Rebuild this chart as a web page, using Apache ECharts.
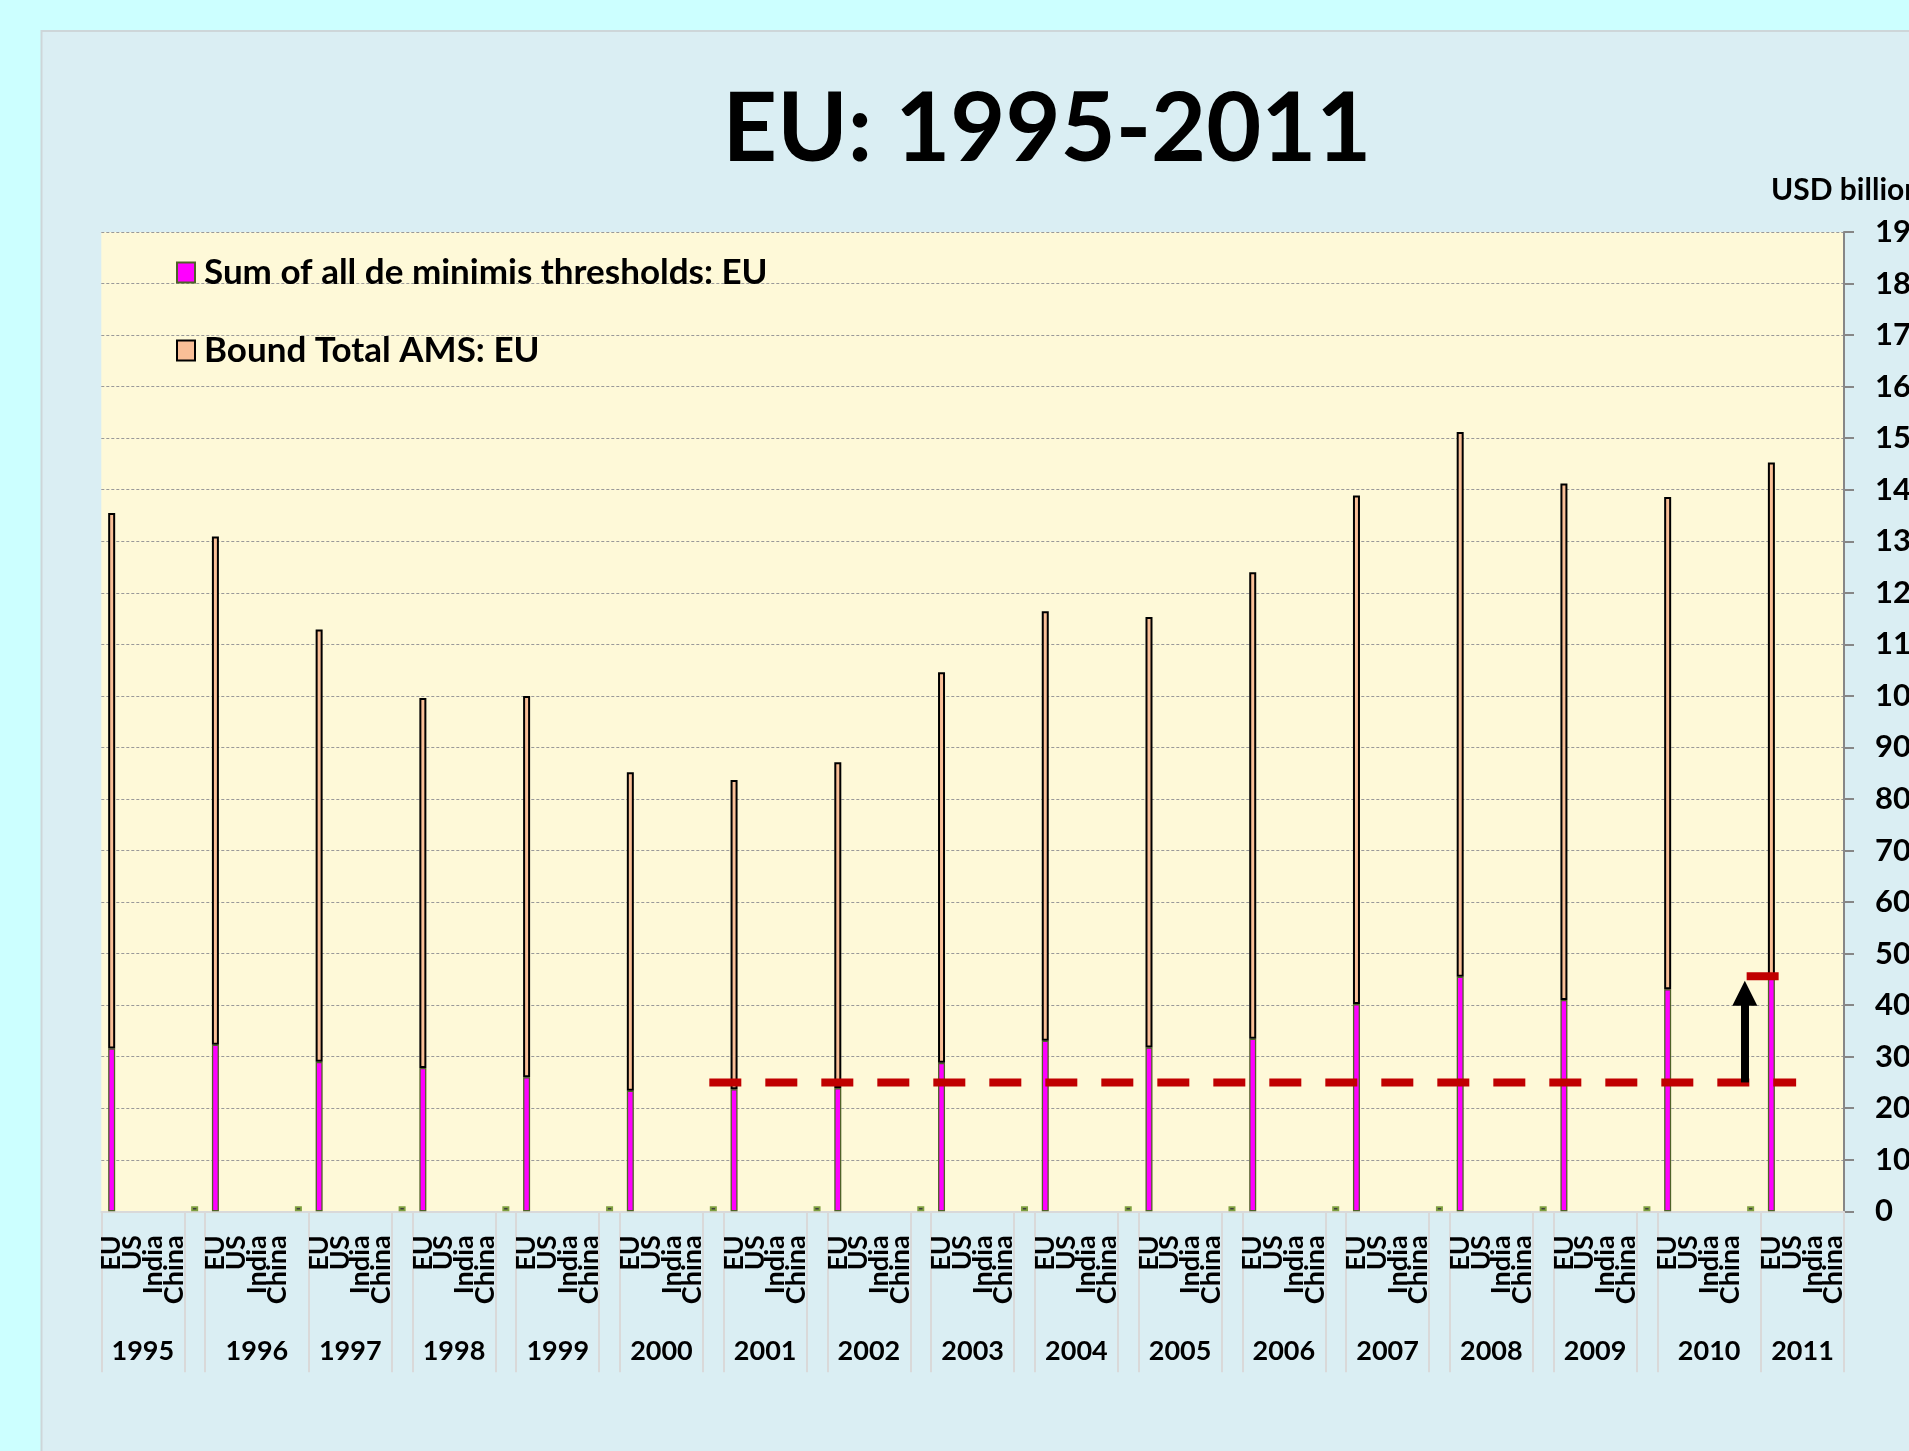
<!DOCTYPE html>
<html>
<head>
<meta charset="utf-8">
<title>EU: 1995-2011</title>
<script src="https://cdn.jsdelivr.net/npm/echarts@6/dist/echarts.min.js"></script>
<style>
  html, body { margin: 0; padding: 0; background: #CCFFFF; }
  #chart { width: 1909px; height: 1451px; }
</style>
</head>
<body>
<div id="chart"></div>
<script>
// lower row of the axis
var years = ['1995', '1996', '1997', '1998', '1999', '2000', '2001', '2002', '2003',
    '2004', '2005', '2006', '2007', '2008', '2009', '2010', '2011'];
// upper row, repeated in every year
var countries = ['EU', 'US', 'India', 'China'];
// slots covered by each year cell (the gap slot got merged into 1996 and 2010)
var yearSlots = [4, 5, 4, 4, 4, 4, 4, 4, 4, 4, 4, 4, 4, 4, 4, 5, 4];

// USD billion, EU slot only
var deMinimisEU = [31.6, 32.3, 29.0, 27.8, 26.0, 23.4, 23.7, 23.9, 28.8,
    33.1, 31.8, 33.5, 40.2, 45.5, 41.0, 43.1, 45.6];
var boundAmsEU = [103.9, 98.6, 83.9, 71.8, 74.0, 61.8, 60.0, 63.2, 75.8,
    83.3, 83.5, 90.5, 98.7, 105.7, 100.2, 95.5, 99.7];
// the little stub sitting in each gap slot
var gapStub = 1.0;

// y axis
var yMin = 0, yMax = 190, yStep = 10;

// red dashed levels, in slot indices
var thresholdLevel = 25;
var thresholdSlots = [29, 81];
var raisedLevel = 45.6;
var raisedSlots = [79, 81];
// arrow (x in slot units, y from the threshold to the middle of the head)
var arrowX = 79.22;
var arrowFrom = 25;
var arrowEnd = 42.3;

// build the slots: EU US India China (gap) ...
var slots = [];
var slotYear = [];
years.forEach(function (y, i) {
    countries.forEach(function (c) { slots.push(c); slotYear.push(i); });
    if (i < years.length - 1) { slots.push(''); slotYear.push(-1); }
});

var magenta = [], peach = [], stubs = [];
slots.forEach(function (c, k) {
    var yi = slotYear[k];
    magenta.push(c === 'EU' ? deMinimisEU[yi] : null);
    peach.push(c === 'EU' ? boundAmsEU[yi] : null);
    stubs.push(c === '' ? gapStub : null);
});

function levelLine(level, span) {
    return slots.map(function (c, k) {
        return (k >= span[0] && k <= span[1]) ? level : null;
    });
}

// year cells: label in the middle, separators on both sides
var yearCenters = [], yearBounds = [], yearAt = {};
years.forEach(function (y, i) {
    var start = i * 5;
    var mid = start + yearSlots[i] / 2;
    yearCenters.push(mid);
    yearAt[mid] = y;
    yearBounds.push(start);
    if (yearSlots[i] === 4 && i < years.length - 1) yearBounds.push(start + 4);
});
yearBounds.push(slots.length);

var font = 'Lato';
var chart = echarts.init(document.getElementById('chart'));

var option = {
    animation: false,
    backgroundColor: '#CCFFFF',
    graphic: [{
        type: 'rect',
        z: -10,
        silent: true,
        shape: { x: 41.5, y: 31, width: 1900, height: 1450 },
        style: { fill: '#DAEEF3', stroke: '#CDD6D9', lineWidth: 2 }
    }],
    title: [{
        text: 'EU: 1995-2011',
        left: 1042,
        top: 78,
        textAlign: 'center',
        textStyle: { fontFamily: font, fontWeight: 'bold', fontSize: 95, color: '#000' }
    }, {
        text: 'USD billion',
        left: 1766,
        top: 170,
        textStyle: { fontFamily: font, fontWeight: 'bold', fontSize: 30, color: '#000' }
    }],
    legend: {
        orient: 'vertical',
        left: 176,
        top: 254,
        padding: 0,
        itemWidth: 18,
        itemHeight: 20,
        itemGap: 41,
        icon: 'rect',
        data: ['Sum of all de minimis thresholds: EU', 'Bound Total AMS: EU'],
        textStyle: { fontFamily: font, fontWeight: 'bold', fontSize: 35, color: '#000', lineHeight: 37, padding: [0, 0, 0, 4] }
    },
    grid: {
        left: 101.3,
        right: 65,
        top: 232,
        bottom: 239.7,
        show: true,
        backgroundColor: '#FEF9D8',
        borderWidth: 0,
        containLabel: false,
        outerBoundsMode: 'none'
    },
    xAxis: [{
        type: 'category',
        data: slots,
        position: 'bottom',
        axisLine: { onZero: false, lineStyle: { color: '#D9D9D9', width: 2 } },
        axisTick: { show: false },
        axisLabel: {
            interval: 0,
            rotate: 90,
            margin: 24,
            fontFamily: font,
            fontWeight: 'bold',
            fontSize: 27,
            color: '#000'
        },
        splitLine: { show: false }
    }, {
        type: 'value',
        min: 0,
        max: slots.length,
        interval: 0.5,
        position: 'bottom',
        axisLine: { show: false, onZero: false },
        splitLine: { show: false },
        axisTick: {
            show: true,
            customValues: yearBounds,
            length: 161,
            lineStyle: { color: '#D9D9D9', width: 2 }
        },
        axisLabel: {
            customValues: yearCenters,
            margin: 126,
            fontFamily: font,
            fontWeight: 'bold',
            fontSize: 27,
            color: '#000',
            formatter: function (v) { return yearAt[v] || ''; }
        }
    }],
    yAxis: {
        type: 'value',
        position: 'right',
        min: yMin,
        max: yMax,
        interval: yStep,
        axisLine: { show: true, onZero: false, lineStyle: { color: '#868686', width: 2 } },
        axisTick: { show: true, length: 10, lineStyle: { color: '#868686', width: 2 } },
        axisLabel: { margin: 31, fontFamily: font, fontWeight: 'bold', fontSize: 31, color: '#000' },
        splitLine: { show: true, lineStyle: { color: '#999999', width: 1, type: [3, 2] } }
    },
    series: [{
        name: 'Sum of all de minimis thresholds: EU',
        type: 'bar',
        stack: 'eu',
        barWidth: 7,
        data: magenta,
        itemStyle: { color: '#FF00FF', borderColor: '#4F6228', borderWidth: 1.3 }
    }, {
        name: 'Bound Total AMS: EU',
        type: 'bar',
        stack: 'eu',
        barWidth: 7,
        data: peach,
        itemStyle: { color: '#F9BF97', borderColor: '#000000', borderWidth: 2 }
    }, {
        name: 'gap',
        type: 'bar',
        stack: 'eu',
        barWidth: 7,
        data: stubs,
        itemStyle: { color: '#3F3F3F', borderColor: '#7FA040', borderWidth: 1.8 }
    }, {
        name: 'threshold',
        type: 'line',
        data: levelLine(thresholdLevel, thresholdSlots),
        symbol: 'none',
        z: 3,
        lineStyle: { color: '#C00000', width: 8, type: [24, 32], cap: 'square' }
    }, {
        name: 'raised',
        type: 'line',
        data: levelLine(raisedLevel, raisedSlots),
        symbol: 'none',
        z: 3,
        lineStyle: { color: '#C00000', width: 8, type: [24, 32], cap: 'square' }
    }, {
        name: 'arrow',
        type: 'line',
        xAxisIndex: 1,
        data: [],
        z: 4,
        markLine: {
            silent: true,
            animation: false,
            symbol: ['none', 'triangle'],
            symbolSize: [25, 25],
            label: { show: false },
            lineStyle: { color: '#000000', width: 8, type: 'solid' },
            data: [[{ coord: [arrowX, arrowFrom] }, { coord: [arrowX, arrowEnd] }]]
        }
    }]
};

chart.setOption(option);
</script>
</body>
</html>
